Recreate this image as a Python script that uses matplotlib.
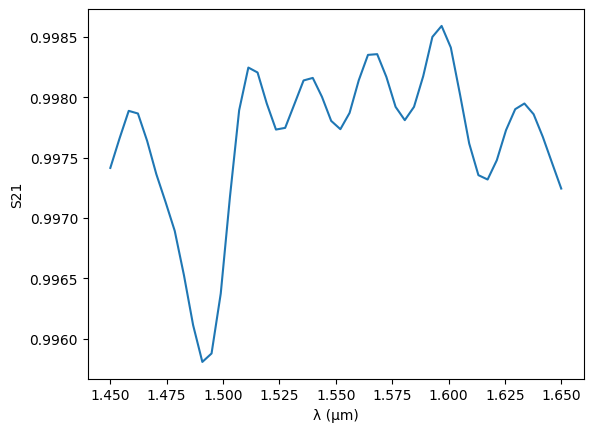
import numpy as np
import matplotlib
matplotlib.use("Agg")
import matplotlib.pyplot as plt

# wavelength grid (um) and transmission
wavelength = np.linspace(1.45, 1.65, 50)
s21 = [
    0.997414, 0.997658, 0.997887, 0.997865, 0.997638, 0.997362, 0.997132,
    0.996892, 0.996525, 0.996110, 0.995806, 0.995876, 0.996373, 0.997174,
    0.997892, 0.998246, 0.998205, 0.997948, 0.997732, 0.997746, 0.997942,
    0.998139, 0.998160, 0.998003, 0.997804, 0.997735, 0.997870, 0.998141,
    0.998351, 0.998357, 0.998168, 0.997920, 0.997810, 0.997920, 0.998174,
    0.998500, 0.998591, 0.998412, 0.998023, 0.997616, 0.997354, 0.997318,
    0.997478, 0.997727, 0.997901, 0.997948, 0.997859, 0.997671, 0.997456,
    0.997243,
]

fig, ax = plt.subplots(figsize=(6.4, 4.8), dpi=100)
ax.plot(wavelength, s21)
ax.set_xlabel("λ (µm)")
ax.set_ylabel("S21")

fig.savefig("out.png", dpi=100, bbox_inches="tight")
